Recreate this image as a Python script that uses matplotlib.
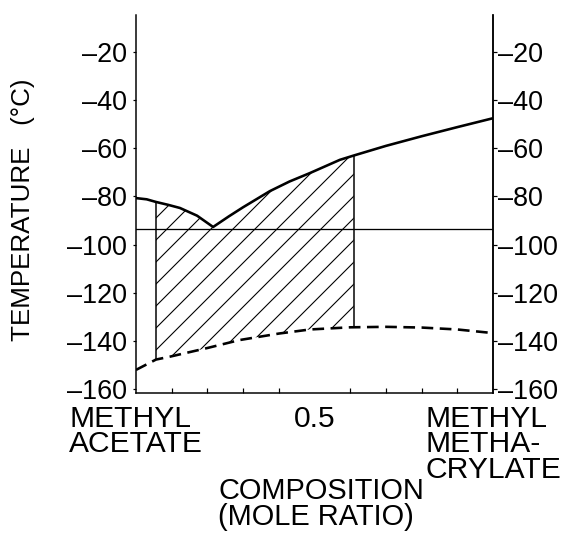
import numpy as np
import matplotlib
matplotlib.use("Agg")
import matplotlib.pyplot as plt

# values
upper_x = [0.0, 0.03, 0.056, 0.09, 0.123, 0.171, 0.216, 0.26, 0.3, 0.375, 0.43, 0.487,
           0.571, 0.61, 0.7, 0.8, 0.9, 1.0]
upper_t = [-80.7, -81.2, -82.3, -83.5, -84.8, -88, -92.7, -88.3, -84.5, -77.8, -73.8, -70.3,
           -64.8, -63, -59, -55, -51.2, -47.5]

lower_x = [0.0, 0.056, 0.095, 0.2, 0.29, 0.4, 0.487, 0.6, 0.7, 0.8, 0.9, 1.0]
lower_t = [-152.1, -147.8, -146.6, -143, -139.7, -137, -135.3, -134.4, -134.2, -134.5, -135.3, -136.8]

level_t = -93.5               # horizontal line
hatch_bounds = [0.056, 0.61]  # vertical lines bounding the hatched zone

yticks = [-160, -140, -120, -100, -80, -60, -40, -20]
ytick_labels = ["\u2013%d" % abs(v) for v in yticks]
xticks = [0.0, 0.5, 1.0]
xtick_labels = ["METHYL\nACETATE", "0.5", "METHYL\nMETHA-\nCRYLATE"]
xminor = [0.1, 0.2, 0.3, 0.4, 0.6, 0.7, 0.8, 0.9]

DPI = 132
W, H = 563, 539


def px(v):
    return v * 72.0 / DPI


plt.rcParams['font.family'] = ['Liberation Sans', 'DejaVu Sans']
plt.rcParams['hatch.linewidth'] = px(1.1)

fig = plt.figure(figsize=(W / DPI, H / DPI), dpi=DPI)
ax = fig.add_axes([136 / W, 1 - 393 / H, 357 / W, 378 / H])
ax.set_xlim(0, 1)
ax.set_ylim(-161.7, -4.6)

# upper solid curve
ax.plot(upper_x, upper_t, color='black', lw=px(2.6), solid_capstyle='butt')
# lower dashed curve
ax.plot(lower_x, lower_t, color='black', lw=px(2.6), dashes=(4.5, 2.5))
# horizontal line
ax.axhline(level_t, color='black', lw=px(1.3))

# hatched zone between the curves
xs = np.linspace(hatch_bounds[0], hatch_bounds[1], 200)
top = np.interp(xs, upper_x, upper_t)
bot = np.interp(xs, lower_x, lower_t)
ax.fill_between(xs, bot, top, facecolor='none', edgecolor='black',
                hatch='//', linewidth=0)
for xb in hatch_bounds:
    ax.vlines(xb, np.interp(xb, lower_x, lower_t), np.interp(xb, upper_x, upper_t),
              color='black', lw=px(1.5))

ax.spines['top'].set_visible(False)
for s in ['left', 'bottom', 'right']:
    ax.spines[s].set_linewidth(px(1.5))

ax.set_yticks(yticks)
ax.set_yticklabels(ytick_labels, fontsize=px(27))
ax.tick_params(axis='y', direction='out', length=px(3), width=px(1.2), pad=px(6))

ax.set_xticks(xticks)
ax.set_xticklabels(xtick_labels, fontsize=px(30), linespacing=0.88)
for lab in ax.get_xticklabels():
    lab.set_multialignment('left')
ax.set_xticks(xminor, minor=True)
ax.tick_params(axis='x', which='both', direction='in', length=px(5), width=px(1.2), pad=px(12))
ax.tick_params(axis='x', which='major', length=0)

ax2 = ax.twinx()
ax2.set_ylim(ax.get_ylim())
ax2.set_yticks(yticks)
ax2.set_yticklabels(ytick_labels, fontsize=px(27))
ax2.tick_params(axis='y', direction='out', length=px(4), width=px(1.2), pad=px(1))
for s in ['top', 'left', 'bottom']:
    ax2.spines[s].set_visible(False)
ax2.spines['right'].set_linewidth(px(1.5))

ax.set_ylabel("TEMPERATURE   (\u00b0C)", fontsize=px(26))
ax.yaxis.set_label_coords(-0.283, 0.484)

fig.text(218 / W, 1 - 477 / H, "COMPOSITION\n(MOLE RATIO)", fontsize=px(29),
         ha='left', va='top', linespacing=0.92)

fig.savefig("out.png", dpi=DPI, facecolor='white')
